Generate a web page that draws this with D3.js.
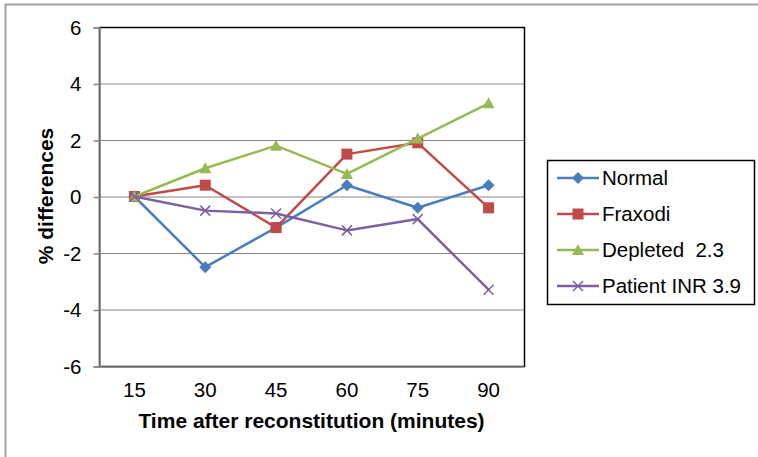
<!DOCTYPE html>
<html lang="en">
<head>
<meta charset="UTF-8">
<title>% differences</title>
<script src="https://d3js.org/d3.v7.min.js"></script>
<style>
  body { margin: 0; background: #fff; }
  text { font-family: Arial, "Liberation Sans", sans-serif; fill: #000; white-space: pre; }
</style>
</head>
<body>
<div id="chart"></div>
<script>
// data
var times = ["15", "30", "45", "60", "75", "90"];
var normal   = [0, -2.5, -1.1, 0.4, -0.4, 0.4];
var fraxodi  = [0, 0.4, -1.1, 1.5, 1.9, -0.4];
var depleted = [0, 1.0, 1.8, 0.8, 2.05, 3.3];
var patient  = [0, -0.5, -0.6, -1.2, -0.8, -3.3];
var yTicks = [-6, -4, -2, 0, 2, 4, 6];

var series = [
  {name: "Normal", values: normal, color: "#4a7ebb", shape: "diamond"},
  {name: "Fraxodi", values: fraxodi, color: "#be4b48", shape: "square"},
  {name: "Depleted  2.3", values: depleted, color: "#98b954", shape: "triangle"},
  {name: "Patient INR 3.9", values: patient, color: "#7d60a0", shape: "cross"}
];

var W = 758, H = 457;
var plot = {left: 99, top: 27, right: 524, bottom: 366};
var fs = 20.5, fsBold = 21;

var svg = d3.select("#chart").append("svg")
  .attr("width", W).attr("height", H);

// outer frame (only top and left visible)
svg.append("path")
  .attr("d", "M5.5,458V4.5H758")
  .attr("fill", "none").attr("stroke", "#a0a0a0").attr("stroke-width", 2);

var x = d3.scaleBand().domain(times).range([plot.left, plot.right]);
var y = d3.scaleLinear().domain([-6, 6]).range([plot.bottom, plot.top]);
var cx = function(i) { return x(times[i]) + x.bandwidth() / 2; };

// gridlines
svg.append("g").selectAll("line").data(yTicks).enter().append("line")
  .attr("x1", plot.left).attr("x2", plot.right)
  .attr("y1", function(d) { return y(d) + 0.5; })
  .attr("y2", function(d) { return y(d) + 0.5; })
  .attr("stroke", "#868686").attr("stroke-width", 1);

// plot border
svg.append("rect")
  .attr("x", plot.left + 0.5).attr("y", plot.top + 0.5)
  .attr("width", plot.right - plot.left).attr("height", plot.bottom - plot.top)
  .attr("fill", "none").attr("stroke", "#000").attr("stroke-width", 1.5);

// y axis (hyphen minus like the original)
var yAxis = d3.axisLeft(y).tickValues(yTicks).tickSize(6).tickPadding(12)
  .tickFormat(function(d) { return String(d); });
var yg = svg.append("g").attr("transform", "translate(" + (plot.left + 0.5) + ",0.5)").call(yAxis);
yg.selectAll("path, line").attr("stroke", "#868686").attr("stroke-width", 1.5);
yg.selectAll("text").attr("font-size", fs).attr("font-family", "Arial, 'Liberation Sans', sans-serif");

// x axis line + labels (no ticks)
var xAxis = d3.axisBottom(x).tickSize(0).tickPadding(16);
var xg = svg.append("g").attr("transform", "translate(0," + (plot.bottom + 0.5) + ")").call(xAxis);
xg.select("path").attr("stroke", "#868686").attr("stroke-width", 1.5);
xg.selectAll("text").attr("font-size", fs).attr("font-family", "Arial, 'Liberation Sans', sans-serif");

// axis titles
svg.append("text")
  .attr("x", (plot.left + plot.right) / 2).attr("y", 428)
  .attr("text-anchor", "middle").attr("font-size", fsBold).attr("font-weight", "bold")
  .text("Time after reconstitution (minutes)");
svg.append("text")
  .attr("transform", "translate(53,196) rotate(-90)")
  .attr("text-anchor", "middle").attr("font-size", fsBold).attr("font-weight", "bold")
  .text("% differences");

// markers
function marker(g, shape, color) {
  if (shape === "diamond") {
    g.append("path").attr("d", "M0,-6L6,0L0,6L-6,0Z").attr("fill", color);
  } else if (shape === "square") {
    g.append("rect").attr("x", -5.5).attr("y", -5.5).attr("width", 11).attr("height", 11).attr("fill", color);
  } else if (shape === "triangle") {
    g.append("path").attr("d", "M0,-6L6,5L-6,5Z").attr("fill", color);
  } else {
    g.append("path").attr("d", "M-5,-5L5,5M-5,5L5,-5").attr("stroke", color).attr("stroke-width", 1.5);
  }
}

var line = d3.line()
  .x(function(d, i) { return cx(i); })
  .y(function(d) { return y(d); });

series.forEach(function(s) {
  var g = svg.append("g");
  g.append("path").datum(s.values).attr("d", line)
    .attr("fill", "none").attr("stroke", s.color).attr("stroke-width", 2.5)
    .attr("stroke-linejoin", "round");
  s.values.forEach(function(v, i) {
    marker(g.append("g").attr("transform", "translate(" + cx(i) + "," + y(v) + ")"), s.shape, s.color);
  });
});

// legend
var lg = svg.append("g");
lg.append("rect").attr("x", 547.5).attr("y", 160.5).attr("width", 207).attr("height", 144)
  .attr("fill", "#fff").attr("stroke", "#000").attr("stroke-width", 1.5);
series.forEach(function(s, i) {
  var yy = 178 + i * 36;
  var item = lg.append("g").attr("transform", "translate(578," + yy + ")");
  item.append("line").attr("x1", -21).attr("x2", 21).attr("stroke", s.color).attr("stroke-width", 2.5);
  marker(item, s.shape, s.color);
  lg.append("text").attr("x", 602).attr("y", yy + 7).attr("font-size", fs).text(s.name);
});
</script>
</body>
</html>
